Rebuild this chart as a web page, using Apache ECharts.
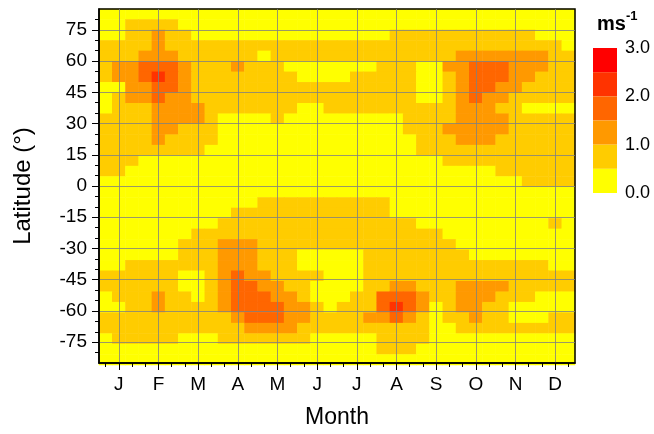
<!DOCTYPE html>
<html><head><meta charset="utf-8">
<script src="https://cdn.jsdelivr.net/npm/echarts@6/dist/echarts.min.js"></script>
<style>html,body{margin:0;padding:0;background:#fff}#c{width:654px;height:434px}</style>
</head><body><div id="c"></div>
<script>
// ---- data ----
const months = ['J','F','M','A','M','J','J','A','S','O','N','D'];
const latTickLabels = ['75','60','45','30','15','0','-15','-30','-45','-60','-75'];
const legendTicks = [0, 1, 2, 3];
const levelBreaks = [0, 0.5, 1.0, 1.5, 2.0, 2.5, 3.0];
const levelColors = ['#FFFF00','#FFCC00','#FF9900','#FF6600','#FF3300','#FF0000'];
// column centres (month, thirds of a month) and row centres (latitude, degrees)
const colMonths = ['0.67','1.00','1.33','1.67','2.00','2.33','2.67','3.00','3.33','3.67','4.00','4.33',
  '4.67','5.00','5.33','5.67','6.00','6.33','6.67','7.00','7.33','7.67','8.00','8.33',
  '8.67','9.00','9.33','9.67','10.00','10.33','10.67','11.00','11.33','11.67','12.00','12.33'];
const rowLats = ['82.5','77.5','72.5','67.5','62.5','57.5','52.5','47.5','42.5','37.5','32.5','27.5',
  '22.5','17.5','12.5','7.5','2.5','-2.5','-7.5','-12.5','-17.5','-22.5','-27.5','-32.5',
  '-37.5','-42.5','-47.5','-52.5','-57.5','-62.5','-67.5','-72.5','-77.5','-82.5'];
// speed (m s-1), one row per latitude band (north to south), 36 columns Jan..Dec
const speed = [
[0.3,0.3,0.3,0.3,0.3,0.3,0.3,0.3,0.3,0.3,0.3,0.3, 0.3,0.3,0.3,0.3,0.3,0.3,0.3,0.3,0.3,0.3,0.3,0.3, 0.3,0.3,0.3,0.3,0.3,0.3,0.3,0.3,0.3,0.3,0.3,0.3],
[0.3,0.3,0.8,0.8,0.8,0.8,0.3,0.3,0.3,0.3,0.3,0.3, 0.3,0.3,0.3,0.3,0.3,0.3,0.3,0.3,0.3,0.3,0.3,0.3, 0.3,0.3,0.3,0.3,0.3,0.3,0.3,0.3,0.3,0.3,0.3,0.3],
[0.3,0.3,0.8,0.8,1.3,0.8,0.8,0.3,0.3,0.3,0.3,0.3, 0.3,0.3,0.3,0.3,0.3,0.3,0.3,0.3,0.3,0.3,0.8,0.8, 0.8,0.8,0.8,0.8,0.8,0.8,0.8,0.8,0.8,0.3,0.3,0.3],
[0.8,0.8,0.8,0.8,1.3,0.8,0.8,0.8,0.8,0.8,0.8,0.8, 0.8,0.8,0.8,0.8,0.8,0.8,0.8,0.8,0.8,0.8,0.8,0.8, 0.8,0.8,0.8,0.8,0.8,0.8,0.8,0.8,0.8,0.8,0.8,0.3],
[0.8,0.8,0.8,1.3,1.3,1.3,0.8,0.8,0.8,0.8,0.8,0.8, 0.3,0.8,0.8,0.8,0.8,0.8,0.8,0.8,0.8,0.8,0.8,0.8, 0.8,0.8,0.8,1.3,1.3,1.3,1.3,1.3,1.3,1.3,0.8,0.8],
[0.8,1.3,1.3,1.8,1.8,1.8,1.3,0.8,0.8,0.8,1.3,0.8, 0.8,0.8,0.3,0.3,0.3,0.3,0.3,0.3,0.3,0.8,0.8,0.8, 0.3,0.3,1.3,1.3,1.8,1.8,1.8,1.3,1.3,1.3,0.8,0.8],
[0.8,1.3,1.3,1.8,2.3,1.8,1.3,0.8,0.8,0.8,0.8,0.8, 0.8,0.8,0.8,0.3,0.3,0.3,0.3,0.8,0.8,0.8,0.8,0.8, 0.3,0.3,0.8,1.3,1.8,1.8,1.8,1.3,1.3,0.8,0.8,0.8],
[0.3,0.3,1.3,1.3,1.8,1.8,1.3,0.8,0.8,0.8,0.8,0.8, 0.8,0.8,0.8,0.8,0.8,0.8,0.8,0.8,0.8,0.8,0.8,0.8, 0.3,0.3,0.8,1.3,1.8,1.8,1.3,1.3,0.8,0.8,0.8,0.8],
[0.3,0.8,1.3,1.3,1.8,1.3,1.3,0.8,0.8,0.8,0.8,0.8, 0.8,0.8,0.8,0.8,0.8,0.8,0.8,0.8,0.8,0.8,0.8,0.8, 0.3,0.3,0.8,1.3,1.8,1.3,1.3,0.8,0.8,0.8,0.8,0.8],
[0.3,0.8,0.8,0.8,1.3,1.3,1.3,1.3,0.8,0.8,0.8,0.8, 0.8,0.8,0.8,0.3,0.3,0.8,0.8,0.8,0.8,0.8,0.8,0.8, 0.8,0.8,0.8,1.3,1.3,1.3,0.8,0.8,0.3,0.3,0.3,0.3],
[0.8,0.8,0.8,0.8,1.3,1.3,1.3,1.3,0.8,0.3,0.3,0.3, 0.3,0.8,0.3,0.3,0.3,0.3,0.3,0.3,0.3,0.3,0.3,0.8, 0.8,0.8,0.8,1.3,1.3,1.3,1.3,0.8,0.8,0.8,0.8,0.8],
[0.8,0.8,0.8,0.8,1.3,1.3,0.8,0.8,0.8,0.3,0.3,0.3, 0.3,0.3,0.3,0.3,0.3,0.3,0.3,0.3,0.3,0.3,0.3,0.8, 0.8,0.8,1.3,1.3,1.3,1.3,1.3,0.8,0.8,0.8,0.8,0.8],
[0.8,0.8,0.8,0.8,1.3,0.8,0.8,0.8,0.8,0.3,0.3,0.3, 0.3,0.3,0.3,0.3,0.3,0.3,0.3,0.3,0.3,0.3,0.3,0.3, 0.8,0.8,0.8,1.3,1.3,1.3,0.8,0.8,0.8,0.8,0.8,0.8],
[0.8,0.8,0.8,0.8,0.8,0.8,0.8,0.8,0.3,0.3,0.3,0.3, 0.3,0.3,0.3,0.3,0.3,0.3,0.3,0.3,0.3,0.3,0.3,0.3, 0.8,0.8,0.8,0.8,0.8,0.8,0.8,0.8,0.8,0.8,0.8,0.8],
[0.8,0.8,0.8,0.3,0.3,0.3,0.3,0.3,0.3,0.3,0.3,0.3, 0.3,0.3,0.3,0.3,0.3,0.3,0.3,0.3,0.3,0.3,0.3,0.3, 0.3,0.3,0.8,0.8,0.8,0.8,0.8,0.8,0.8,0.8,0.8,0.8],
[0.8,0.8,0.3,0.3,0.3,0.3,0.3,0.3,0.3,0.3,0.3,0.3, 0.3,0.3,0.3,0.3,0.3,0.3,0.3,0.3,0.3,0.3,0.3,0.3, 0.3,0.3,0.3,0.3,0.3,0.3,0.8,0.8,0.8,0.8,0.8,0.8],
[0.3,0.3,0.3,0.3,0.3,0.3,0.3,0.3,0.3,0.3,0.3,0.3, 0.3,0.3,0.3,0.3,0.3,0.3,0.3,0.3,0.3,0.3,0.3,0.3, 0.3,0.3,0.3,0.3,0.3,0.3,0.3,0.3,0.8,0.8,0.8,0.8],
[0.3,0.3,0.3,0.3,0.3,0.3,0.3,0.3,0.3,0.3,0.3,0.3, 0.3,0.3,0.3,0.3,0.3,0.3,0.3,0.3,0.3,0.3,0.3,0.3, 0.3,0.3,0.3,0.3,0.3,0.3,0.3,0.3,0.3,0.3,0.3,0.3],
[0.3,0.3,0.3,0.3,0.3,0.3,0.3,0.3,0.3,0.3,0.3,0.3, 0.8,0.8,0.8,0.8,0.8,0.8,0.8,0.8,0.8,0.8,0.3,0.3, 0.3,0.3,0.3,0.3,0.3,0.3,0.3,0.3,0.3,0.3,0.3,0.3],
[0.3,0.3,0.3,0.3,0.3,0.3,0.3,0.3,0.3,0.3,0.8,0.8, 0.8,0.8,0.8,0.8,0.8,0.8,0.8,0.8,0.8,0.8,0.3,0.3, 0.3,0.3,0.3,0.3,0.3,0.3,0.3,0.3,0.3,0.3,0.3,0.3],
[0.3,0.3,0.3,0.3,0.3,0.3,0.3,0.3,0.3,0.8,0.8,0.8, 0.8,0.8,0.8,0.8,0.8,0.8,0.8,0.8,0.8,0.8,0.8,0.8, 0.3,0.3,0.3,0.3,0.3,0.3,0.3,0.3,0.3,0.3,0.8,0.3],
[0.3,0.3,0.3,0.3,0.3,0.3,0.3,0.8,0.8,0.8,0.8,0.8, 0.8,0.8,0.8,0.8,0.8,0.8,0.8,0.8,0.8,0.8,0.8,0.8, 0.8,0.8,0.3,0.3,0.3,0.3,0.3,0.3,0.3,0.3,0.3,0.3],
[0.3,0.3,0.3,0.3,0.3,0.3,0.8,0.8,0.8,1.3,1.3,1.3, 0.8,0.8,0.8,0.8,0.8,0.8,0.8,0.8,0.8,0.8,0.8,0.8, 0.8,0.8,0.8,0.3,0.3,0.3,0.3,0.3,0.3,0.3,0.3,0.3],
[0.3,0.3,0.3,0.3,0.3,0.3,0.8,0.8,0.8,1.3,1.3,1.3, 0.8,0.8,0.8,0.3,0.3,0.3,0.3,0.3,0.8,0.8,0.8,0.8, 0.8,0.8,0.8,0.8,0.3,0.3,0.3,0.3,0.3,0.3,0.3,0.3],
[0.3,0.3,0.8,0.8,0.8,0.8,0.8,0.8,0.8,1.3,1.3,1.3, 0.8,0.8,0.8,0.3,0.3,0.3,0.3,0.3,0.8,0.8,0.8,0.8, 0.8,0.8,0.8,0.8,0.8,0.8,0.8,0.8,0.8,0.8,0.3,0.3],
[0.8,0.8,0.8,0.8,0.8,0.8,0.3,0.3,0.8,1.3,1.8,1.3, 1.3,0.8,0.8,0.8,0.8,0.3,0.3,0.3,0.8,0.8,0.8,0.8, 0.8,0.8,0.8,0.8,0.8,0.8,0.8,0.8,0.8,0.8,0.8,0.8],
[0.8,0.8,0.8,0.8,0.8,0.8,0.3,0.3,0.8,1.3,1.8,1.8, 1.3,1.3,0.8,0.8,0.3,0.3,0.3,0.3,0.8,0.8,1.3,1.3, 0.8,0.8,0.8,1.3,1.3,1.3,1.3,0.8,0.8,0.8,0.8,0.8],
[0.3,0.8,0.8,0.8,1.3,0.8,0.8,0.3,0.8,1.3,1.8,1.8, 1.8,1.3,1.3,0.8,0.3,0.3,0.3,0.8,0.8,1.8,1.8,1.8, 1.3,0.8,0.8,1.3,1.3,1.3,0.8,0.8,0.8,0.3,0.3,0.3],
[0.3,0.3,0.8,0.8,1.3,0.8,0.8,0.8,0.8,1.3,1.8,1.8, 1.8,1.8,1.3,1.3,0.8,0.3,0.8,0.8,0.8,1.8,2.3,1.8, 1.3,0.3,0.8,1.3,1.3,0.8,0.8,0.3,0.3,0.3,0.3,0.3],
[0.8,0.8,0.8,0.8,0.8,0.8,0.8,0.8,0.8,0.8,1.3,1.8, 1.8,1.8,1.3,1.3,0.8,0.8,0.8,0.8,1.3,1.3,1.8,1.3, 0.8,0.3,0.8,0.8,1.3,0.8,0.8,0.3,0.3,0.3,0.8,0.8],
[0.8,0.8,0.8,0.8,0.8,0.8,0.8,0.8,0.8,0.8,0.8,1.3, 1.3,1.3,1.3,0.8,0.8,0.8,0.8,0.8,0.8,0.8,0.8,0.8, 0.8,0.3,0.3,0.8,0.8,0.8,0.8,0.8,0.8,0.8,0.8,0.8],
[0.3,0.8,0.8,0.8,0.8,0.8,0.3,0.3,0.3,0.8,0.8,0.8, 0.8,0.8,0.8,0.8,0.3,0.3,0.3,0.3,0.3,0.8,0.8,0.8, 0.8,0.3,0.3,0.3,0.3,0.3,0.3,0.3,0.3,0.3,0.3,0.3],
[0.3,0.3,0.3,0.3,0.3,0.3,0.3,0.3,0.3,0.3,0.3,0.3, 0.3,0.3,0.3,0.3,0.3,0.3,0.3,0.3,0.3,0.8,0.8,0.8, 0.3,0.3,0.3,0.3,0.3,0.3,0.3,0.3,0.3,0.3,0.3,0.3],
[0.3,0.3,0.3,0.3,0.3,0.3,0.3,0.3,0.3,0.3,0.3,0.3, 0.3,0.3,0.3,0.3,0.3,0.3,0.3,0.3,0.3,0.3,0.3,0.3, 0.3,0.3,0.3,0.3,0.3,0.3,0.3,0.3,0.3,0.3,0.3,0.3]
];

// ---- chart ----
const FONT = '"Liberation Sans", Arial, Helvetica, sans-serif';
const plot = {left: 99, top: 9, width: 476, height: 356};
const gridColor = 'rgba(128,128,128,0.8)';

// display axes: positions every 1/6 month (0.5 .. 12.5) and every 5 deg (-85 .. 85)
const xPos = []; for (let k = 0; k <= 72; k++) xPos.push((0.5 + k / 6).toFixed(3));
const latPos = []; for (let v = -85; v <= 85; v += 5) latPos.push(String(v));
const isMonth = (i) => i % 6 === 3;
const isThird = (i) => i % 2 === 1;
const isMajorLat = (i, v) => latTickLabels.indexOf(String(v)) >= 0;
const isMinorLat = (i) => i > 0 && i < latPos.length - 1;

const cells = [];
speed.forEach((row, j) => row.forEach((v, i) => cells.push([i, j, v])));

const pieces = levelColors.map((c, i) => ({min: levelBreaks[i], max: levelBreaks[i + 1], color: c}));

const chart = echarts.init(document.getElementById('c'), null, {renderer: 'canvas'});
chart.setOption({
  animation: false,
  textStyle: {fontFamily: FONT},
  title: {
    left: 592, top: 5,
    text: '{a|ms}{b|-1}',
    textStyle: {rich: {
      a: {fontFamily: FONT, fontSize: 20, color: '#000', lineHeight: 24, verticalAlign: 'bottom'},
      b: {fontFamily: FONT, fontSize: 13, color: '#000', lineHeight: 24, verticalAlign: 'top'}
    }}
  },
  grid: [
    Object.assign({show: false}, plot),
    Object.assign({show: true, z: 10, backgroundColor: 'rgba(0,0,0,0)', borderColor: '#000', borderWidth: 1.5}, plot),
    {left: 593, top: 48, width: 24, height: 145, show: false}
  ],
  xAxis: [
    {gridIndex: 0, type: 'category', data: colMonths, show: false},
    {gridIndex: 1, type: 'category', data: xPos, boundaryGap: false, position: 'bottom', z: 10,
      name: 'Month', nameLocation: 'middle', nameGap: 43,
      nameTextStyle: {fontFamily: FONT, fontSize: 23, color: '#000'},
      axisLine: {show: true, lineStyle: {color: '#000', width: 1.5}},
      axisTick: {show: true, interval: isMonth, length: 7, lineStyle: {color: '#000', width: 1}},
      axisLabel: {show: true, interval: isMonth, margin: 12, fontFamily: FONT, fontSize: 19, color: '#000',
        formatter: (v, i) => months[(i - 3) / 6]},
      splitLine: {show: true, interval: isMonth, lineStyle: {color: gridColor, width: 1}}},
    {gridIndex: 1, type: 'category', data: xPos, boundaryGap: false, position: 'bottom', z: 10,
      axisLine: {show: false},
      axisTick: {show: true, interval: isThird, length: 4, lineStyle: {color: '#000', width: 1}},
      axisLabel: {show: false}, splitLine: {show: false}},
    {gridIndex: 2, type: 'value', show: false}
  ],
  yAxis: [
    {gridIndex: 0, type: 'category', data: rowLats, inverse: true, show: false},
    {gridIndex: 1, type: 'category', data: latPos, boundaryGap: false, position: 'left', z: 10,
      name: 'Latitude (°)', nameLocation: 'middle', nameGap: 64,
      nameTextStyle: {fontFamily: FONT, fontSize: 24, color: '#000'},
      axisLine: {show: true, lineStyle: {color: '#000', width: 1.5}},
      axisTick: {show: true, interval: isMajorLat, length: 7, lineStyle: {color: '#000', width: 1}},
      axisLabel: {show: true, interval: isMajorLat, margin: 12, fontFamily: FONT, fontSize: 19, color: '#000'},
      splitLine: {show: true, interval: isMajorLat, lineStyle: {color: gridColor, width: 1}}},
    {gridIndex: 1, type: 'category', data: latPos, boundaryGap: false, position: 'left', z: 10,
      axisLine: {show: false},
      axisTick: {show: true, interval: isMinorLat, length: 4, lineStyle: {color: '#000', width: 1}},
      axisLabel: {show: false}, splitLine: {show: false}},
    {gridIndex: 2, type: 'value', min: legendTicks[0], max: legendTicks[legendTicks.length - 1], interval: 1,
      position: 'right',
      axisLine: {show: false}, axisTick: {show: false}, splitLine: {show: false},
      axisLabel: {show: true, margin: 8, fontFamily: FONT, fontSize: 18, color: '#000',
        formatter: (v) => v.toFixed(1)}}
  ],
  visualMap: {
    type: 'piecewise', seriesIndex: 0, pieces: pieces, orient: 'vertical',
    left: 593, top: 48, padding: 0, itemWidth: 24, itemHeight: 145 / 6, itemGap: 0,
    itemSymbol: 'rect', showLabel: false, selectedMode: false, hoverLink: false
  },
  series: [{
    type: 'heatmap', xAxisIndex: 0, yAxisIndex: 0, data: cells, silent: true,
    emphasis: {disabled: true}, itemStyle: {borderWidth: 0}
  }]
});
</script></body></html>
